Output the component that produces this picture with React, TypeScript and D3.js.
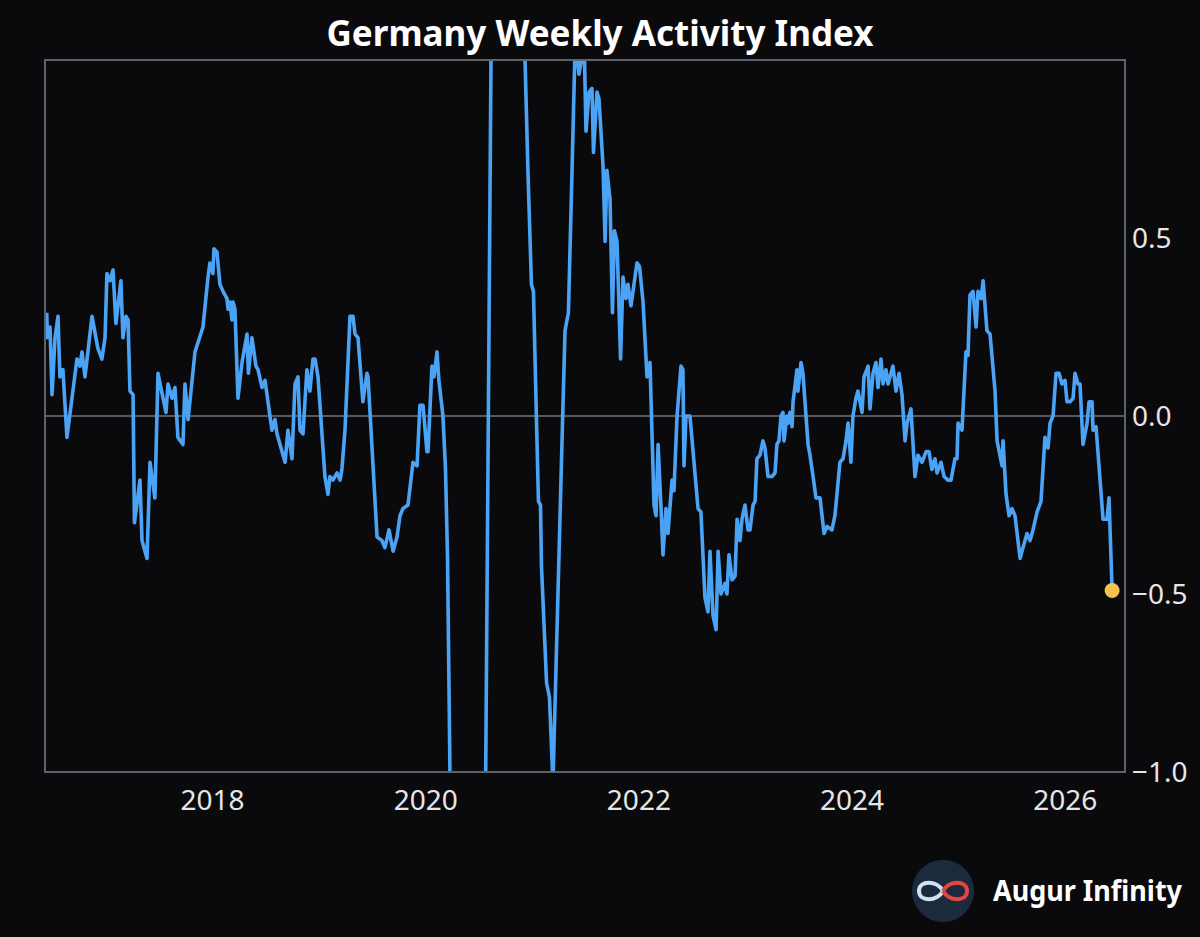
import * as d3 from "d3";
import { useEffect, useRef } from "react";

// decimal years
const weeks = [
  2016.445, 2016.452, 2016.476, 2016.495, 2016.523, 2016.551, 2016.569, 2016.597, 2016.635, 2016.729,
  2016.757, 2016.776, 2016.804, 2016.870, 2016.925, 2016.963, 2016.992, 2017.010, 2017.039, 2017.067,
  2017.094, 2017.141, 2017.160, 2017.189, 2017.208, 2017.226, 2017.255, 2017.268, 2017.320, 2017.339,
  2017.386, 2017.414, 2017.460, 2017.489, 2017.536, 2017.564, 2017.583, 2017.621, 2017.648, 2017.676,
  2017.723, 2017.742, 2017.771, 2017.836, 2017.911, 2017.958, 2017.976, 2018.004, 2018.014, 2018.042,
  2018.070, 2018.099, 2018.136, 2018.146, 2018.164, 2018.183, 2018.192, 2018.211, 2018.239, 2018.277,
  2018.324, 2018.337, 2018.370, 2018.408, 2018.427, 2018.465, 2018.493, 2018.558, 2018.586, 2018.605,
  2018.681, 2018.708, 2018.746, 2018.774, 2018.802, 2018.821, 2018.849, 2018.886, 2018.914, 2018.943,
  2018.962, 2018.990, 2019.055, 2019.083, 2019.102, 2019.130, 2019.168, 2019.197, 2019.214, 2019.243,
  2019.290, 2019.318, 2019.337, 2019.365, 2019.411, 2019.449, 2019.459, 2019.544, 2019.590, 2019.618,
  2019.656, 2019.694, 2019.731, 2019.759, 2019.787, 2019.834, 2019.881, 2019.919, 2019.946, 2019.975,
  2020.012, 2020.022, 2020.059, 2020.078, 2020.106, 2020.124, 2020.162, 2020.186, 2020.205, 2020.224,
  2020.247, 2020.303, 2020.378, 2020.453, 2020.509, 2020.547, 2020.622, 2020.697, 2020.772, 2020.847,
  2020.885, 2020.932, 2020.960, 2020.992, 2021.011, 2021.044, 2021.058, 2021.077, 2021.086, 2021.134,
  2021.161, 2021.194, 2021.279, 2021.307, 2021.339, 2021.372, 2021.400, 2021.419, 2021.438, 2021.467,
  2021.490, 2021.504, 2021.532, 2021.560, 2021.574, 2021.607, 2021.626, 2021.664, 2021.683, 2021.700,
  2021.729, 2021.752, 2021.771, 2021.795, 2021.828, 2021.851, 2021.879, 2021.897, 2021.926, 2021.982,
  2022.006, 2022.039, 2022.076, 2022.104, 2022.142, 2022.161, 2022.180, 2022.208, 2022.226, 2022.254,
  2022.273, 2022.311, 2022.329, 2022.358, 2022.395, 2022.413, 2022.423, 2022.442, 2022.479, 2022.555,
  2022.582, 2022.620, 2022.648, 2022.667, 2022.695, 2022.724, 2022.743, 2022.770, 2022.808, 2022.826,
  2022.845, 2022.874, 2022.902, 2022.921, 2022.948, 2022.967, 2022.995, 2023.024, 2023.042, 2023.071,
  2023.090, 2023.107, 2023.136, 2023.164, 2023.183, 2023.211, 2023.249, 2023.277, 2023.295, 2023.314,
  2023.333, 2023.352, 2023.361, 2023.389, 2023.399, 2023.418, 2023.437, 2023.446, 2023.483, 2023.492,
  2023.521, 2023.539, 2023.587, 2023.605, 2023.634, 2023.661, 2023.699, 2023.737, 2023.765, 2023.811,
  2023.839, 2023.886, 2023.915, 2023.943, 2023.962, 2023.989, 2024.008, 2024.036, 2024.055, 2024.093,
  2024.112, 2024.150, 2024.168, 2024.196, 2024.224, 2024.243, 2024.271, 2024.290, 2024.318, 2024.337,
  2024.383, 2024.412, 2024.440, 2024.468, 2024.497, 2024.516, 2024.552, 2024.590, 2024.618, 2024.656,
  2024.694, 2024.721, 2024.749, 2024.778, 2024.797, 2024.834, 2024.863, 2024.899, 2024.928, 2024.965,
  2024.984, 2024.994, 2025.031, 2025.068, 2025.087, 2025.106, 2025.134, 2025.163, 2025.181, 2025.210,
  2025.229, 2025.265, 2025.294, 2025.341, 2025.360, 2025.407, 2025.416, 2025.444, 2025.472, 2025.500,
  2025.528, 2025.576, 2025.603, 2025.641, 2025.669, 2025.697, 2025.735, 2025.772, 2025.809, 2025.838,
  2025.857, 2025.885, 2025.913, 2025.941, 2025.969, 2025.997, 2026.016, 2026.044, 2026.073, 2026.091,
  2026.119, 2026.138, 2026.166, 2026.204, 2026.223, 2026.251, 2026.260, 2026.288, 2026.354, 2026.391,
  2026.410, 2026.439,
];

const activity = [
  0.29, 0.22, 0.25, 0.06, 0.22, 0.28, 0.11, 0.13, -0.06, 0.16,
  0.14, 0.18, 0.11, 0.28, 0.19, 0.16, 0.22, 0.40, 0.38, 0.41,
  0.26, 0.38, 0.22, 0.28, 0.27, 0.07, 0.06, -0.30, -0.18, -0.35,
  -0.40, -0.13, -0.23, 0.12, 0.05, 0.01, 0.09, 0.05, 0.08, -0.06,
  -0.08, 0.09, -0.01, 0.18, 0.25, 0.39, 0.43, 0.40, 0.47, 0.46,
  0.37, 0.35, 0.33, 0.30, 0.32, 0.27, 0.32, 0.30, 0.05, 0.15,
  0.23, 0.12, 0.22, 0.14, 0.13, 0.08, 0.10, -0.04, -0.01, -0.05,
  -0.13, -0.04, -0.12, 0.09, 0.11, -0.04, -0.05, 0.13, 0.07, 0.16,
  0.16, 0.11, -0.17, -0.22, -0.17, -0.18, -0.16, -0.18, -0.15, -0.04,
  0.28, 0.28, 0.23, 0.22, 0.04, 0.12, 0.11, -0.34, -0.35, -0.37,
  -0.32, -0.38, -0.34, -0.28, -0.26, -0.25, -0.13, -0.14, 0.03, 0.03,
  -0.10, -0.10, 0.14, 0.11, 0.18, 0.10, 0.00, -0.15, -0.40, -0.90,
  -1.60, -2.60, -3.10, -2.80, -2.20, -1.65, 1.38, 2.20, 2.30, 1.80,
  1.47, 1.00, 0.68, 0.37, 0.35, -0.07, -0.24, -0.25, -0.42, -0.75,
  -0.79, -1.03, -0.07, 0.24, 0.29, 0.68, 1.02, 1.02, 0.96, 1.01,
  1.00, 0.80, 0.91, 0.92, 0.74, 0.91, 0.89, 0.70, 0.49, 0.69,
  0.61, 0.29, 0.52, 0.49, 0.16, 0.39, 0.33, 0.37, 0.31, 0.43,
  0.42, 0.32, 0.11, 0.15, -0.25, -0.28, -0.08, -0.26, -0.39, -0.26,
  -0.33, -0.18, -0.21, 0.00, 0.14, 0.13, -0.14, 0.00, 0.00, -0.26,
  -0.27, -0.51, -0.55, -0.38, -0.56, -0.60, -0.38, -0.50, -0.47, -0.50,
  -0.39, -0.46, -0.45, -0.29, -0.35, -0.29, -0.25, -0.32, -0.32, -0.25,
  -0.24, -0.12, -0.11, -0.07, -0.09, -0.17, -0.17, -0.16, -0.08, -0.07,
  0.00, 0.01, -0.07, 0.00, -0.02, 0.01, -0.03, 0.04, 0.13, 0.07,
  0.15, 0.12, -0.08, -0.11, -0.17, -0.23, -0.23, -0.33, -0.31, -0.32,
  -0.28, -0.13, -0.12, -0.07, -0.02, -0.13, 0.00, 0.05, 0.07, 0.01,
  0.11, 0.14, 0.02, 0.12, 0.15, 0.08, 0.16, 0.09, 0.13, 0.09,
  0.14, 0.07, 0.12, 0.06, -0.07, -0.02, 0.02, -0.17, -0.11, -0.13,
  -0.10, -0.10, -0.15, -0.12, -0.16, -0.13, -0.17, -0.18, -0.18, -0.12,
  -0.12, -0.02, -0.04, 0.18, 0.17, 0.34, 0.35, 0.25, 0.35, 0.33,
  0.38, 0.24, 0.23, 0.07, -0.07, -0.14, -0.07, -0.22, -0.28, -0.26,
  -0.28, -0.40, -0.37, -0.33, -0.35, -0.32, -0.27, -0.24, -0.06, -0.09,
  -0.02, 0.00, 0.12, 0.12, 0.09, 0.10, 0.04, 0.04, 0.05, 0.12,
  0.09, 0.09, -0.08, -0.02, 0.04, 0.04, -0.04, -0.03, -0.29, -0.29,
  -0.23, -0.49,
];

const yTicks = [0.5, 0, -0.5, -1];
const xTicks = [2018, 2020, 2022, 2024, 2026];
const xDomain = [2016.429, 2026.56];
const yDomain = [-1, 1];
const title = "Germany Weekly Activity Index";
const brand = "Augur Infinity";

const ActivityChart = () => {
  const chartRef = useRef<HTMLDivElement>(null);

  useEffect(() => {
    const width = 1200;
    const height = 937;
    const left = 45;
    const right = 1125;
    const top = 60;
    const bottom = 772;
    const lineColor = "#4aa3f5";
    const gridColor = "#5e636b";
    const labelColor = "#e6e6e8";
    const font = "'Noto Sans', 'DejaVu Sans', sans-serif";

    const points = weeks.map((w, i) => ({ week: w, value: activity[i] }));

    d3.select(chartRef.current).select("svg").remove();

    const svg = d3
      .select(chartRef.current)
      .append("svg")
      .attr("width", width)
      .attr("height", height)
      .style("display", "block");

    svg
      .append("rect")
      .attr("width", width)
      .attr("height", height)
      .attr("fill", "#0a0a0c");

    const x = d3.scaleLinear().domain(xDomain).range([left, right]);
    const y = d3.scaleLinear().domain(yDomain).range([bottom, top]);

    svg
      .append("defs")
      .append("clipPath")
      .attr("id", "plot-clip")
      .append("rect")
      .attr("x", left)
      .attr("y", top)
      .attr("width", right - left)
      .attr("height", bottom - top);

    // zero line
    svg
      .append("line")
      .attr("x1", left)
      .attr("x2", right)
      .attr("y1", y(0))
      .attr("y2", y(0))
      .attr("stroke", "#55595f")
      .attr("stroke-width", 1.8);

    const line = d3
      .line<{ week: number; value: number }>()
      .x((d) => x(d.week))
      .y((d) => y(d.value));

    svg
      .append("path")
      .datum(points)
      .attr("clip-path", "url(#plot-clip)")
      .attr("d", line)
      .attr("fill", "none")
      .attr("stroke", lineColor)
      .attr("stroke-width", 3.6)
      .attr("stroke-linejoin", "round");

    svg
      .append("rect")
      .attr("x", left)
      .attr("y", top)
      .attr("width", right - left)
      .attr("height", bottom - top)
      .attr("fill", "none")
      .attr("stroke", gridColor)
      .attr("stroke-width", 2);

    const last = points[points.length - 1];
    svg
      .append("circle")
      .attr("cx", x(last.week))
      .attr("cy", y(last.value))
      .attr("r", 7.5)
      .attr("fill", "#f4c24d");

    svg
      .selectAll(".ytick")
      .data(yTicks)
      .join("text")
      .attr("class", "ytick")
      .attr("x", right + 7)
      .attr("y", (d) => y(d) + 10)
      .attr("font-family", font)
      .attr("font-size", 28)
      .attr("fill", labelColor)
      .text((d) => d3.format(".1f")(d));

    svg
      .selectAll(".xtick")
      .data(xTicks)
      .join("text")
      .attr("class", "xtick")
      .attr("x", (d) => x(d))
      .attr("y", 810)
      .attr("text-anchor", "middle")
      .attr("font-family", font)
      .attr("font-size", 28)
      .attr("fill", labelColor)
      .text((d) => String(d));

    svg
      .append("text")
      .attr("x", 600)
      .attr("y", 46)
      .attr("text-anchor", "middle")
      .attr("font-family", font)
      .attr("font-weight", 700)
      .attr("font-size", 36)
      .attr("textLength", 547)
      .attr("lengthAdjust", "spacingAndGlyphs")
      .attr("fill", "#ffffff")
      .text(title);

    // brand badge
    const cx = 943;
    const cy = 891;
    svg
      .append("circle")
      .attr("cx", cx)
      .attr("cy", cy)
      .attr("r", 31)
      .attr("fill", "#1b2b3d");
    svg
      .append("path")
      .attr(
        "d",
        `M${cx},${cy} C${cx - 6},${cy - 11} ${cx - 24},${cy - 11} ${cx - 24},${cy} C${cx - 24},${cy + 11} ${cx - 6},${cy + 11} ${cx},${cy}`
      )
      .attr("fill", "none")
      .attr("stroke", "#cfe2f2")
      .attr("stroke-width", 4);
    svg
      .append("path")
      .attr(
        "d",
        `M${cx},${cy} C${cx + 6},${cy - 11} ${cx + 24},${cy - 11} ${cx + 24},${cy} C${cx + 24},${cy + 11} ${cx + 6},${cy + 11} ${cx},${cy}`
      )
      .attr("fill", "none")
      .attr("stroke", "#e4463d")
      .attr("stroke-width", 4);

    svg
      .append("text")
      .attr("x", 993)
      .attr("y", 901)
      .attr("font-family", font)
      .attr("font-weight", 700)
      .attr("font-size", 28)
      .attr("textLength", 189)
      .attr("lengthAdjust", "spacingAndGlyphs")
      .attr("fill", "#ffffff")
      .text(brand);
  }, []);

  return (
    <div
      ref={chartRef}
      style={{ position: "absolute", left: 0, top: 0 }}
    ></div>
  );
};

export default function App() {
  return <ActivityChart />;
}
